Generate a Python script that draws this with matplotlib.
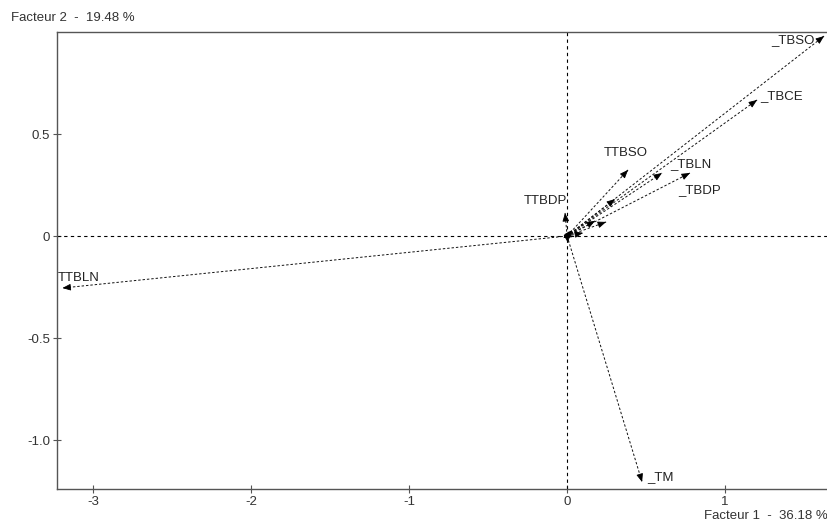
import numpy as np
import matplotlib
matplotlib.use("Agg")
import matplotlib.pyplot as plt

plt.rcParams['font.family'] = ['Liberation Sans', 'DejaVu Sans']

# ---- data ----
labels = ["TTBLN", "_TBSO", "_TBCE", "_TBLN", "_TBDP", "TTBSO", "TTBDP", "_TM",
          "", "", "", "", "", "", ""]
fx = [-3.196, 1.627, 1.203, 0.601, 0.778, 0.386, -0.013, 0.475,
      0.304, 0.177, 0.247, 0.101, 0.032, -0.025, 0.006]
fy = [-0.255, 0.980, 0.667, 0.309, 0.309, 0.324, 0.113, -1.206,
      0.181, 0.074, 0.069, 0.015, 0.029, -0.010, -0.034]
xticks = [-3, -2, -1, 0, 1]
xticklabels = ["-3", "-2", "-1", "0", "1"]
yticks = [-1.0, -0.5, 0, 0.5]
yticklabels = ["-1.0", "-0.5", "0", "0.5"]
xlabel = "Facteur 1  -  36.18 %"
ylabel = "Facteur 2  -  19.48 %"

# label placement (pixel offsets from arrow tips)
label_style = {
    "TTBLN": ((-5, 10), "left"),
    "_TBSO": ((-9, -4), "right"),
    "_TBCE": ((3, 4), "left"),
    "_TBLN": ((8, 9), "left"),
    "_TBDP": ((-12, -17), "left"),
    "TTBSO": ((-24, 17), "left"),
    "TTBDP": ((-41, 12), "left"),
    "_TM": ((5, 5), "left"),
}

FS = 9.5
fig = plt.figure(figsize=(8.28, 5.23), dpi=100)
ax = fig.add_axes([57/828, 1-489/523, 1-57/828, (489-32)/523])
ax.set_xlim(-3.23, 1.652)
ax.set_ylim(-1.24, 1.0)

grey = "#555555"
for s in ["left", "bottom", "top"]:
    ax.spines[s].set_color(grey)
    ax.spines[s].set_linewidth(1.0)
ax.spines["right"].set_visible(False)

ax.set_xticks(xticks)
ax.set_xticklabels(xticklabels)
ax.set_yticks(yticks)
ax.set_yticklabels(yticklabels)
ax.tick_params(direction="inout", length=6, width=0.8, color=grey,
               labelcolor="#333333", labelsize=FS, pad=2)

ax.axhline(0, color="black", lw=0.8, ls=(0, (3, 3)))
ax.axvline(0, color="black", lw=0.8, ls=(0, (3, 3)))

fig.canvas.draw()
T = ax.transData
o = T.transform((0, 0))
for lab, x, y in zip(labels, fx, fy):
    ax.plot([0, x], [0, y], color="#111111", lw=0.7, ls=(0, (2.5, 2)))
    p = T.transform((x, y))
    d = p - o
    n = np.hypot(*d)
    u = d / n if n > 0 else np.array([1.0, 0.0])
    ax.annotate("", xy=(x, y), xytext=tuple(-u * 7), textcoords="offset pixels",
                arrowprops=dict(arrowstyle="-|>,head_length=0.5,head_width=0.2",
                                color="black", lw=0.6, mutation_scale=10,
                                shrinkA=0, shrinkB=0))
    if lab:
        off, ha = label_style[lab]
        ax.annotate(lab, xy=(x, y), xytext=off, textcoords="offset pixels",
                    ha=ha, va="center", fontsize=FS, color="#222222")

fig.text(11/828, 1-18/523, ylabel, ha="left", va="center", fontsize=FS, color="#333333")
fig.text(828/828, 1-516/523, xlabel, ha="right", va="center", fontsize=FS, color="#333333")

fig.savefig("out.png", dpi=100)
